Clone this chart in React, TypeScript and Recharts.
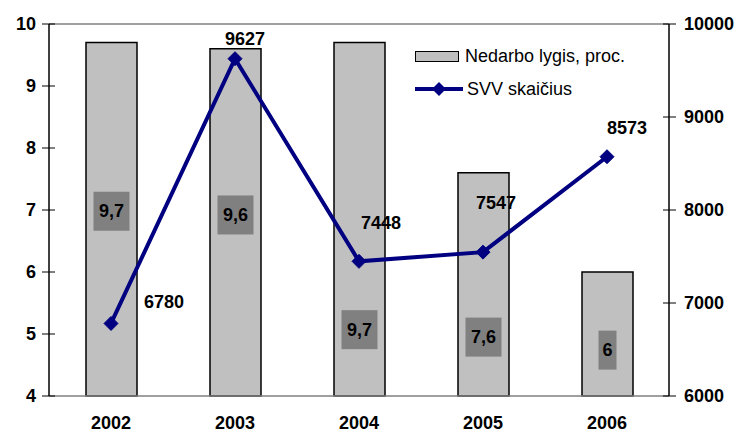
import React from 'react';
import {
    ComposedChart,
    Bar,
    Line,
    XAxis,
    YAxis,
    ReferenceLine,
    LabelList
} from 'recharts';

const years = ['2002', '2003', '2004', '2005', '2006'];
const unemployment = [9.7, 9.6, 9.7, 7.6, 6];
const svvCount = [6780, 9627, 7448, 7547, 8573];
const leftTicks = [4, 5, 6, 7, 8, 9, 10];
const rightTicks = [6000, 7000, 8000, 9000, 10000];

// where Excel left the bar labels, in left-axis units
const barLabelLevel = [6.98, 6.92, 5.07, 4.95, 4.74];
// line label offsets from the point (px)
const lineLabelDx = [53, 10, 22, 13, 20];
const lineLabelDy = [-21, -20, -38, -49, -29];

const data = years.map((year, i) => ({
    year,
    unemployment: unemployment[i],
    svv: svvCount[i]
}));

const FONT = 'Arial, "Liberation Sans", sans-serif';
const NAVY = '#000080';

const LeftTick = (props: any) => {
    const { x, y, payload } = props;
    const ax = x + 13;
    return (
        <g>
            <line x1={ax - 7} x2={ax + 6} y1={y} y2={y} stroke="#000" strokeWidth={1} />
            <text x={x} y={y} dy={6} textAnchor="end" fontFamily={FONT} fontSize={18} fontWeight="bold" fill="#000">
                {payload.value}
            </text>
        </g>
    );
};

const RightTick = (props: any) => {
    const { x, y, payload } = props;
    const ax = x - 15;
    return (
        <g>
            <line x1={ax - 6} x2={ax + 7} y1={y} y2={y} stroke="#000" strokeWidth={1} />
            <text x={x} y={y} dy={6} textAnchor="start" fontFamily={FONT} fontSize={18} fontWeight="bold" fill="#000">
                {payload.value}
            </text>
        </g>
    );
};

const Diamond = (props: any) => {
    const { cx, cy } = props;
    if (cx == null || cy == null) return null;
    const r = 7;
    return (
        <polygon
            points={`${cx},${cy - r} ${cx + r},${cy} ${cx},${cy + r} ${cx - r},${cy}`}
            fill={NAVY}
            stroke={NAVY}
        />
    );
};

const BarValueLabel = (props: any) => {
    const { x, y, width, height, value, index } = props;
    const bottom = y + height;
    const perUnit = height / (value - 4);
    const cy = bottom - (barLabelLevel[index] - 4) * perUnit;
    const text = String(value).replace('.', ',');
    const w = text.length > 1 ? 36 : 18;
    const cx = x + width / 2;
    return (
        <g>
            <rect x={cx - w / 2} y={cy - 19.5} width={w} height={39} fill="#808080" />
            <text x={cx} y={cy} dy={6} textAnchor="middle" fontFamily={FONT} fontSize={18} fontWeight="bold" fill="#000">
                {text}
            </text>
        </g>
    );
};

const LineValueLabel = (props: any) => {
    const { x, y, value, index } = props;
    return (
        <text
            x={x + lineLabelDx[index]}
            y={y + lineLabelDy[index]}
            dy={6}
            textAnchor="middle"
            fontFamily={FONT}
            fontSize={18}
            fontWeight="bold"
            fill="#000"
        >
            {value}
        </text>
    );
};

const LegendBox = () => (
    <div style={{ position: 'absolute', left: 415, top: 44, fontFamily: FONT, fontSize: 18, color: '#000', lineHeight: '24px' }}>
        <div style={{ display: 'flex', alignItems: 'center', height: 24 }}>
            <span style={{ display: 'inline-block', width: 42, height: 9, background: '#C0C0C0', border: '1px solid #000', marginRight: 6 }} />
            Nedarbo lygis, proc.
        </div>
        <div style={{ display: 'flex', alignItems: 'center', height: 24, marginTop: 9 }}>
            <svg width={48} height={16} style={{ marginRight: 4 }}>
                <line x1={0} x2={48} y1={8} y2={8} stroke={NAVY} strokeWidth={4} />
                <polygon points="24,1 31,8 24,15 17,8" fill={NAVY} />
            </svg>
            SVV skaičius
        </div>
    </div>
);

export default function App() {
    return (
        <div style={{ position: 'absolute', left: 0, top: 0, width: 744, height: 434, background: '#fff' }}>
            <ComposedChart
                width={744}
                height={434}
                data={data}
                margin={{ top: 24, right: 0, bottom: 0, left: 0 }}
            >
                <XAxis
                    dataKey="year"
                    axisLine={{ stroke: '#808080', strokeWidth: 1.5 }}
                    tickLine={false}
                    tickMargin={14}
                    height={38}
                    tick={{ fontFamily: FONT, fontSize: 18, fontWeight: 'bold', fill: '#000' }}
                />
                <YAxis
                    yAxisId="left"
                    orientation="left"
                    domain={[4, 10]}
                    ticks={leftTicks}
                    width={49}
                    tickSize={7}
                    tickMargin={6}
                    tickLine={false}
                    axisLine={{ stroke: '#000', strokeWidth: 1.5 }}
                    tick={<LeftTick />}
                    interval={0}
                />
                <YAxis
                    yAxisId="right"
                    orientation="right"
                    domain={[6000, 10000]}
                    ticks={rightTicks}
                    width={75}
                    tickSize={7}
                    tickMargin={8}
                    tickLine={false}
                    axisLine={{ stroke: '#000', strokeWidth: 1.5 }}
                    tick={<RightTick />}
                    interval={0}
                />
                <ReferenceLine yAxisId="left" y={10} stroke="#808080" strokeWidth={1.5} />
                <Bar
                    yAxisId="left"
                    dataKey="unemployment"
                    barSize={51}
                    fill="#C0C0C0"
                    stroke="#000"
                    strokeWidth={1.5}
                    isAnimationActive={false}
                >
                    <LabelList dataKey="unemployment" content={<BarValueLabel />} />
                </Bar>
                <Line
                    yAxisId="right"
                    dataKey="svv"
                    stroke={NAVY}
                    strokeWidth={4}
                    dot={<Diamond />}
                    activeDot={false}
                    isAnimationActive={false}
                >
                    <LabelList dataKey="svv" content={<LineValueLabel />} />
                </Line>
            </ComposedChart>
            <LegendBox />
        </div>
    );
}
